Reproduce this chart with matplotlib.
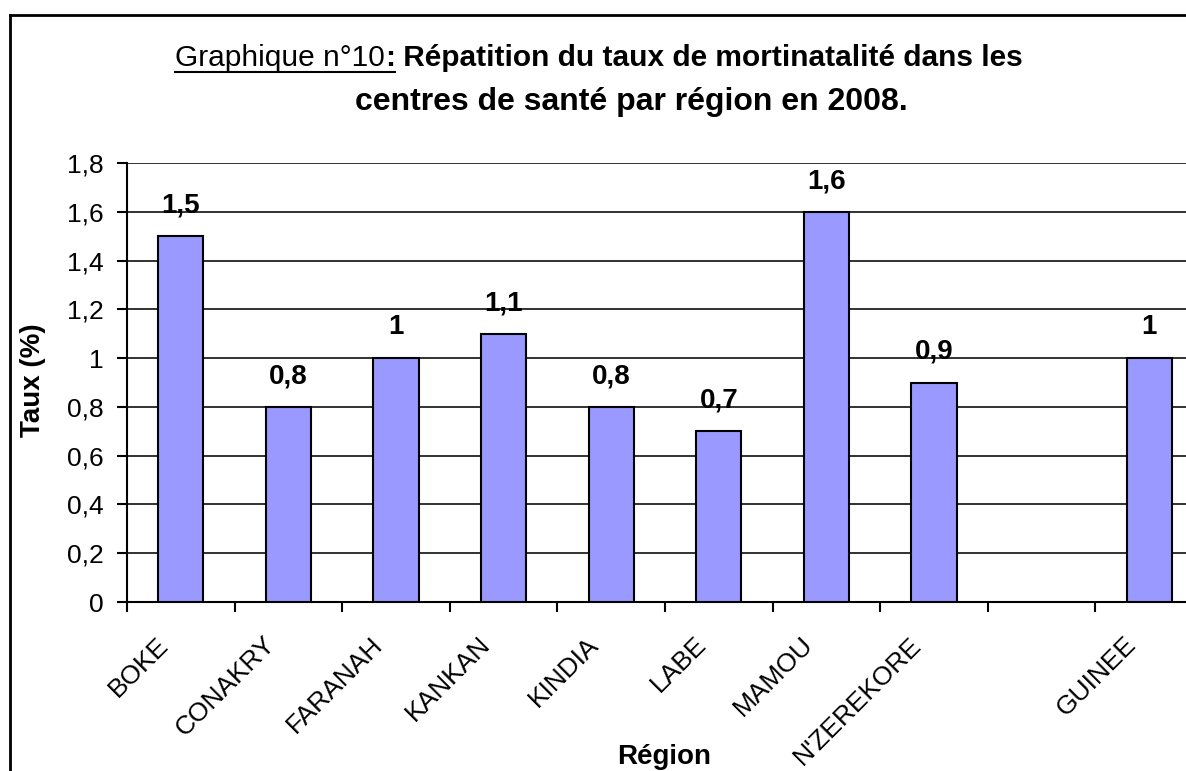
import matplotlib.pyplot as plt
from matplotlib.lines import Line2D
import numpy as np

regions = ['BOKE', 'CONAKRY', 'FARANAH', 'KANKAN', 'KINDIA', 'LABE', 'MAMOU',
           "N'ZEREKORE", '', 'GUINEE']
taux = [1.5, 0.8, 1.0, 1.1, 0.8, 0.7, 1.6, 0.9, None, 1.0]
yticks = [0, 0.2, 0.4, 0.6, 0.8, 1.0, 1.2, 1.4, 1.6, 1.8]

plt.rcParams['font.family'] = ['Liberation Sans', 'DejaVu Sans']

W, H = 1186, 771
fig = plt.figure(figsize=(W / 100, H / 100), dpi=100)
fig.patch.set_facecolor('white')

# plot area runs past the right edge, like the cropped original
ax = fig.add_axes([127 / W, 1 - 602 / H, (1203 - 127) / W, (602 - 163) / H])

x = np.arange(len(regions))
for xi, v in zip(x, taux):
    if v is None:
        continue
    ax.bar(xi, v, width=0.42, color='#9999FF', edgecolor='black', linewidth=1.5, zorder=3)
    lab = ('%g' % v).replace('.', ',')
    ax.annotate(lab, (xi, v), xytext=(0, 17), textcoords='offset points',
                ha='center', va='baseline', fontsize=20, fontweight='bold', zorder=4)

ax.set_xlim(-0.5, len(regions) - 0.5)
ax.set_ylim(0, 1.8)
ax.set_yticks(yticks)
ax.set_yticklabels([('%g' % t).replace('.', ',') for t in yticks], fontsize=19)
ax.yaxis.grid(True, color='#222222', linewidth=1.3, zorder=0)
ax.set_axisbelow(True)

# ticks between the categories, labels placed like Excel does
ax.set_xticks(np.arange(len(regions) + 1) - 0.5)
ax.set_xticklabels([])
for xi, name in zip(x, regions):
    ax.annotate(name, xy=(xi, 0), xycoords=('data', 'axes fraction'),
                xytext=(-12, -28), textcoords='offset points', rotation=45,
                ha='right', va='center', rotation_mode='anchor', fontsize=19)
ax.tick_params(axis='both', which='major', direction='out', length=7, width=1.5, color='black')
ax.tick_params(axis='y', pad=10)

for s in ['top', 'right']:
    ax.spines[s].set_visible(False)
for s in ['left', 'bottom']:
    ax.spines[s].set_linewidth(1.5)

fig.text(33 / W, 1 - 380 / H, 'Taux (%)', fontsize=20, fontweight='bold',
         rotation=90, ha='center', va='center')
fig.text(664 / W, 1 - 757 / H, 'Région', fontsize=20, fontweight='bold',
         ha='center', va='center')

# title: underlined regular part + bold part on the first line
fig.canvas.draw()
r = fig.canvas.get_renderer()
y1 = 1 - 66 / H
parts = [('Graphique n°10', 'normal'), (':', 'bold'),
         (' Répatition du taux de mortinatalité dans les', 'bold')]
texts = []
xpos = 176
for s, wgt in parts:
    t = fig.text(xpos / W, y1, s, fontsize=21.5, fontweight=wgt, ha='left', va='baseline')
    xpos = t.get_window_extent(r).x1
    texts.append(t)
shift = (599 - (texts[0].get_window_extent(r).x0 + xpos) / 2) / W
for t in texts:
    t.set_x(t.get_position()[0] + shift)
fig.canvas.draw()
ux0 = texts[0].get_window_extent(r).x0
ux1 = texts[1].get_window_extent(r).x1
uy = (H - 72) / H
fig.add_artist(Line2D([ux0 / W, ux1 / W], [uy, uy], color='black', linewidth=1.5))
fig.text(631 / W, 1 - 110 / H, 'centres de santé par région en 2008.', fontsize=23,
         fontweight='bold', ha='center', va='baseline')

# chart border (cropped on right and bottom)
fig.add_artist(Line2D([10 / W, 10 / W], [1 - 15 / H, -0.1], color='black', linewidth=2))
fig.add_artist(Line2D([10 / W, 1.1], [1 - 15 / H, 1 - 15 / H], color='black', linewidth=2))

fig.savefig('out.png', dpi=100)
